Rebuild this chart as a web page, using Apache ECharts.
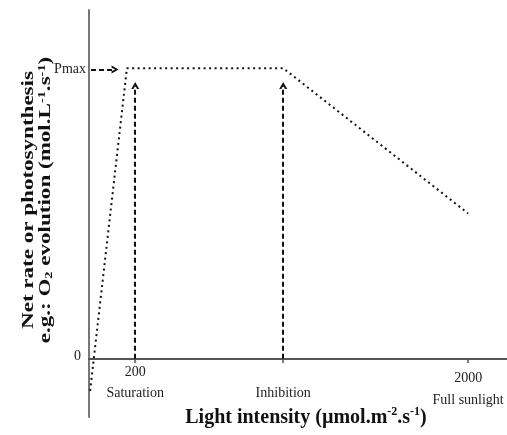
<!DOCTYPE html>
<html>
<head>
<meta charset="utf-8">
<script src="https://cdn.jsdelivr.net/npm/echarts@6/dist/echarts.min.js"></script>
<style>
html, body { margin: 0; padding: 0; background: #fff; }
#main { width: 507px; height: 435px; }
</style>
</head>
<body>
<div id="main"></div>
<script>
// light response curve (light intensity, net rate)
var lightX = [-44, 155, 1000, 2000];
var netRate = [-11, 100, 100, 50];
// x axis ticks
var xTicks = [200, 1000, 2000];
var xTickNums = ['200', '', '2000'];
var xTickNames = ['Saturation', 'Inhibition', 'Full sunlight'];
// y axis ticks
var yTicks = [0, 100];
var yTickNames = ['0', 'Pmax'];
// dashed arrows [from, to]
var pmaxArrow = [[-39, 99.5], [91, 99.5]];
var satArrow = [[200, 0], [200, 94]];
var inhArrow = [[1000, 0], [1000, 94]];

var serif = 'Liberation Serif';
var chevron = 'path://M0,10 L5,0 L10,10 L7.2,10 L5,5 L2.8,10 Z';

var myChart = echarts.init(document.getElementById('main'));

var curveData = [];
for (var i = 0; i < lightX.length; i++) {
	curveData.push([lightX[i], netRate[i]]);
}

function arrowLine(a) {
	return [{ coord: a[0] }, { coord: a[1] }];
}

var option = {
	animation: false,
	backgroundColor: '#fff',
	grid: {
		left: 89,
		right: 0,
		top: 10,
		bottom: 18,
		outerBoundsMode: 'none'
	},
	xAxis: {
		type: 'value',
		min: -50,
		max: 2210,
		// axis sits at y = 0, which is 58px above the grid bottom
		offset: -58,
		name: 'Light intensity (µmol.m{s|-2}.s{s|-1})',
		nameLocation: 'middle',
		nameGap: 47,
		nameMoveOverlap: false,
		nameTextStyle: {
			fontFamily: serif,
			fontWeight: 'bold',
			fontSize: 20,
			color: '#111',
			lineHeight: 24,
			padding: [0, 0, 0, 16],
			rich: {
				s: { fontFamily: serif, fontWeight: 'bold', fontSize: 12, lineHeight: 12, verticalAlign: 'top', color: '#111' }
			}
		},
		axisLine: { onZero: false, lineStyle: { color: '#555', width: 2 } },
		axisTick: { customValues: xTicks, length: 4, lineStyle: { color: '#555', width: 1.5 } },
		splitLine: { show: false },
		axisLabel: {
			customValues: xTicks,
			margin: 3,
			fontFamily: serif,
			fontSize: 14,
			color: '#222',
			formatter: function (v) {
				var i = xTicks.indexOf(v);
				if (i === 2) {
					return '{c|' + xTickNums[i] + '}\n{d|' + xTickNames[i] + '}';
				}
				return '{a|' + (xTickNums[i] || ' ') + '}\n{b|' + xTickNames[i] + '}';
			},
			rich: {
				a: { fontFamily: serif, fontSize: 14, color: '#222', lineHeight: 21 },
				b: { fontFamily: serif, fontSize: 14, color: '#222', lineHeight: 21 },
				c: { fontFamily: serif, fontSize: 14, color: '#222', lineHeight: 33 },
				d: { fontFamily: serif, fontSize: 14, color: '#222', lineHeight: 11 }
			}
		}
	},
	yAxis: {
		type: 'value',
		min: -20,
		max: 120,
		axisLine: { onZero: false, lineStyle: { color: '#777', width: 2 } },
		axisTick: { show: false },
		splitLine: { show: false },
		axisLabel: {
			customValues: yTicks,
			margin: 3,
			fontFamily: serif,
			fontSize: 14,
			color: '#222',
			formatter: function (v) {
				var i = yTicks.indexOf(v);
				return (i === 0 ? '{z|' : '{p|') + yTickNames[i] + '}';
			},
			rich: {
				z: { fontFamily: serif, fontSize: 14, color: '#222', padding: [0, 5, 6, 0] },
				p: { fontFamily: serif, fontSize: 14, color: '#222', padding: [3, 0, 0, 0] }
			}
		}
	},
	// rotated y title, stretched along its reading direction like the original
	graphic: [{
		type: 'text',
		x: 37,
		y: 200,
		rotation: Math.PI / 2,
		scaleX: 1.44,
		style: {
			text: 'Net rate or photosynthesis\ne.g.: O{b|2} evolution (mol.L{t|-1}.s{t|-1})',
			font: 'bold 16px "Liberation Serif"',
			fill: '#111',
			align: 'center',
			verticalAlign: 'middle',
			lineHeight: 17,
			rich: {
				b: { font: 'bold 10px "Liberation Serif"', fill: '#111', lineHeight: 17, verticalAlign: 'bottom' },
				t: { font: 'bold 10px "Liberation Serif"', fill: '#111', lineHeight: 10, verticalAlign: 'top' }
			}
		}
	}],
	series: [{
		type: 'line',
		data: curveData,
		symbol: 'none',
		showSymbol: false,
		silent: true,
		lineStyle: { color: '#111', width: 2, type: [2, 3.5] },
		markLine: {
			silent: true,
			animation: false,
			symbol: ['none', chevron],
			symbolSize: [8, 7],
			label: { show: false },
			emphasis: { disabled: true },
			lineStyle: { color: '#111', width: 2, type: [5, 3] },
			data: [arrowLine(pmaxArrow), arrowLine(satArrow), arrowLine(inhArrow)]
		}
	}]
};

myChart.setOption(option);
</script>
</body>
</html>
